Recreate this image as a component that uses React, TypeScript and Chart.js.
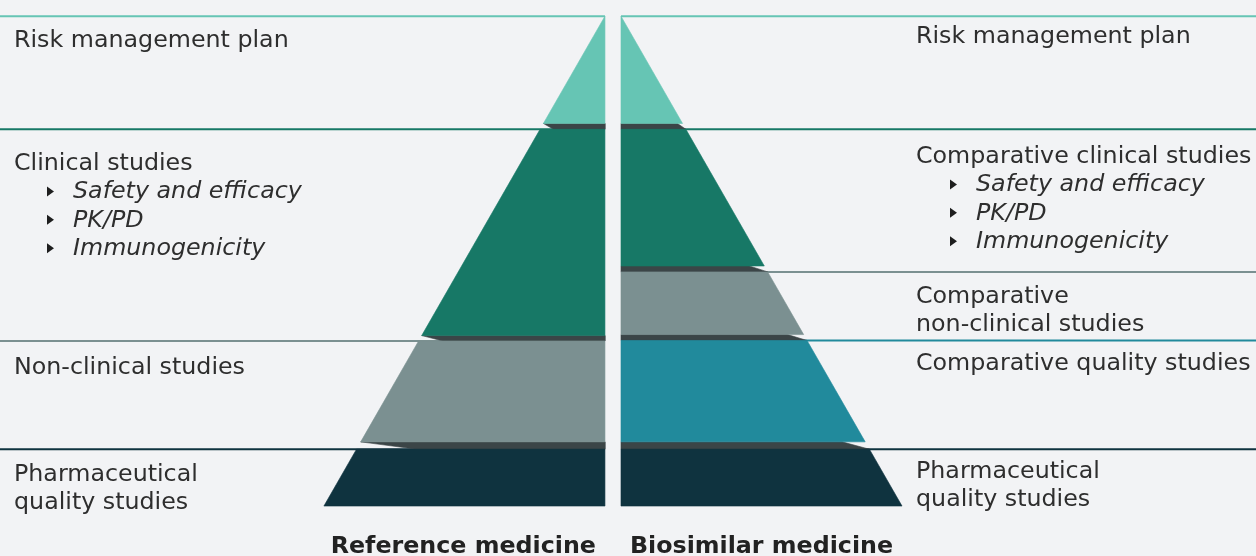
import React, { useEffect, useRef } from 'react';
import { Chart, registerables } from 'chart.js';

Chart.register(...registerables);

// ---------- DATA (pyramid levels: 0 = base, 100 = apex) ----------
const leftLayerNames = ['Risk management plan', 'Clinical studies', 'Non-clinical studies', 'Pharmaceutical quality studies'];
const leftLayerTop = [100, 76.9, 33.7, 11.6];
const leftLayerBottom = [78.1, 34.8, 13.1, 0];

const rightLayerNames = ['Risk management plan', 'Comparative clinical studies', 'Comparative non-clinical studies', 'Comparative quality studies', 'Pharmaceutical quality studies'];
const rightLayerTop = [100, 76.9, 47.8, 33.8, 11.6];
const rightLayerBottom = [78.1, 49.0, 35.0, 13.1, 0];

// label texts
const leftLabelLines = [['Risk management plan'], ['Clinical studies'], ['Non-clinical studies'], ['Pharmaceutical', 'quality studies']];
const leftBulletLines = [[], ['Safety and efficacy', 'PK/PD', 'Immunogenicity'], [], []];
const rightLabelLines = [['Risk management plan'], ['Comparative clinical studies'], ['Comparative', 'non-clinical studies'], ['Comparative quality studies'], ['Pharmaceutical', 'quality studies']];
const rightBulletLines = [[], ['Safety and efficacy', 'PK/PD', 'Immunogenicity'], [], [], []];
const axisTitles = ['Reference medicine', 'Biosimilar medicine'];

// ---------- STYLE / LAYOUT ----------
const BG = '#F2F3F5';
const TEXT = '#2E2E2E';
const SHADOW = '#3B4547';
const leftColors = ['#66C5B4', '#177866', '#7B9091', '#0F333F'];
const rightColors = ['#66C5B4', '#177866', '#7B9091', '#218A9C', '#0F333F'];
const leftShadowInset = [3.6, 7.5, 19.9];
const rightShadowInset = [1.8, 5.3, 5.7, 8.2];

const X_MIN = -218.1, X_MAX = 228.8, Y_MIN = -10.2, Y_MAX = 103.3;
const APEX = 100;
const GAP = 2.85;
const W = 1256, H = 556;
const FONT = '"DejaVu Sans", Verdana, sans-serif';
const FS = 23.75;
const LH = 28.4;
const leftTextX = 14, leftBulletX = 47, leftBulletTextX = 73;
const rightTextX = 916, rightBulletX = 950, rightBulletTextX = 976;
const leftBaselines = [47, 170, 374, 481];
const rightBaselines = [43, 163, 303, 370, 478];
const titleBaseline = 553;

const hw = (level: number) => APEX - level;

function layerPoly(side: number, top: number, bottom: number) {
  return [
    { x: side * GAP, y: top },
    { x: side * (GAP + hw(top)), y: top },
    { x: side * (GAP + hw(bottom)), y: bottom },
    { x: side * GAP, y: bottom },
    { x: side * GAP, y: top },
  ];
}

function leftShadow(b: number, t: number, s: number) {
  return [
    { x: -(GAP + hw(b)), y: b },
    { x: -GAP, y: b },
    { x: -GAP, y: t },
    { x: -(GAP + hw(b) - s), y: t },
    { x: -(GAP + hw(b)), y: b },
  ];
}

function rightShadow(b: number, t: number, s: number) {
  return [
    { x: GAP, y: b },
    { x: GAP + hw(b) - s, y: b },
    { x: GAP + hw(t), y: t },
    { x: GAP, y: t },
    { x: GAP, y: b },
  ];
}

function polyDataset(label: string, data: any[], color: string, order: number) {
  return {
    label,
    data,
    backgroundColor: color,
    borderColor: color,
    borderWidth: 0.6,
    fill: 'shape',
    pointRadius: 0,
    tension: 0,
    order,
  };
}

function lineDataset(label: string, data: any[], color: string) {
  return {
    label,
    data,
    borderColor: color,
    backgroundColor: color,
    borderWidth: 2,
    fill: false,
    pointRadius: 0,
    tension: 0,
    order: 10,
  };
}

function buildDatasets() {
  const ds: any[] = [];
  leftLayerNames.forEach((n, i) => {
    ds.push(polyDataset(n, layerPoly(-1, leftLayerTop[i], leftLayerBottom[i]), leftColors[i], 1));
    ds.push(lineDataset(n + ' rule', [{ x: X_MIN, y: leftLayerTop[i] }, { x: -GAP, y: leftLayerTop[i] }], leftColors[i]));
  });
  rightLayerNames.forEach((n, i) => {
    ds.push(polyDataset(n, layerPoly(1, rightLayerTop[i], rightLayerBottom[i]), rightColors[i], 1));
    ds.push(lineDataset(n + ' rule', [{ x: GAP, y: rightLayerTop[i] }, { x: X_MAX, y: rightLayerTop[i] }], rightColors[i]));
  });
  for (let i = 0; i < leftLayerNames.length - 1; i++) {
    ds.push(polyDataset('shadow L' + i, leftShadow(leftLayerBottom[i], leftLayerTop[i + 1], leftShadowInset[i]), SHADOW, 2));
  }
  for (let i = 0; i < rightLayerNames.length - 1; i++) {
    ds.push(polyDataset('shadow R' + i, rightShadow(rightLayerBottom[i], rightLayerTop[i + 1], rightShadowInset[i]), SHADOW, 2));
  }
  return ds;
}

const bgPlugin = {
  id: 'bg',
  beforeDraw(chart: any) {
    const { ctx } = chart;
    ctx.save();
    ctx.fillStyle = BG;
    ctx.fillRect(0, 0, chart.width, chart.height);
    ctx.restore();
  },
};

function drawBlock(ctx: CanvasRenderingContext2D, lines: string[], bullets: string[], x: number, bx: number, btx: number, base: number) {
  ctx.font = `${FS}px ${FONT}`;
  ctx.fillStyle = TEXT;
  ctx.textAlign = 'left';
  let y = base;
  lines.forEach((l) => {
    ctx.fillText(l, x, y);
    y += LH;
  });
  bullets.forEach((b) => {
    ctx.fillStyle = '#1E1E1E';
    ctx.beginPath();
    const cy = y - 7;
    ctx.moveTo(bx, cy - 5);
    ctx.lineTo(bx + 7, cy);
    ctx.lineTo(bx, cy + 5);
    ctx.closePath();
    ctx.fill();
    ctx.fillStyle = TEXT;
    ctx.font = `italic ${FS}px ${FONT}`;
    ctx.fillText(b, btx, y);
    y += LH;
  });
}

const textPlugin = {
  id: 'texts',
  afterDraw(chart: any) {
    const { ctx } = chart;
    ctx.save();
    ctx.textBaseline = 'alphabetic';
    leftLabelLines.forEach((lines, i) => drawBlock(ctx, lines, leftBulletLines[i], leftTextX, leftBulletX, leftBulletTextX, leftBaselines[i]));
    rightLabelLines.forEach((lines, i) => drawBlock(ctx, lines, rightBulletLines[i], rightTextX, rightBulletX, rightBulletTextX, rightBaselines[i]));
    ctx.font = `bold ${FS}px ${FONT}`;
    ctx.fillStyle = '#222';
    const xs = chart.scales.x;
    ctx.textAlign = 'right';
    ctx.fillText(axisTitles[0], xs.getPixelForValue(-GAP) - 9, titleBaseline);
    ctx.textAlign = 'left';
    ctx.fillText(axisTitles[1], xs.getPixelForValue(GAP) + 9, titleBaseline);
    ctx.restore();
  },
};

export default function App() {
  const ref = useRef<HTMLCanvasElement | null>(null);
  useEffect(() => {
    if (!ref.current) return;
    const chart = new Chart(ref.current, {
      type: 'line',
      data: { datasets: buildDatasets() },
      options: {
        animation: false,
        responsive: false,
        maintainAspectRatio: false,
        events: [],
        layout: { padding: 0 },
        plugins: { legend: { display: false }, tooltip: { enabled: false } },
        elements: { point: { radius: 0, hoverRadius: 0 } },
        scales: {
          x: { type: 'linear', min: X_MIN, max: X_MAX, display: false },
          y: { type: 'linear', min: Y_MIN, max: Y_MAX, display: false },
        },
      } as any,
      plugins: [bgPlugin, textPlugin],
    });
    return () => chart.destroy();
  }, []);
  return (
    <div style={{ position: 'fixed', left: 0, top: 0, width: W, height: H, background: BG }}>
      <canvas ref={ref} width={W} height={H} style={{ display: 'block' }} />
    </div>
  );
}
